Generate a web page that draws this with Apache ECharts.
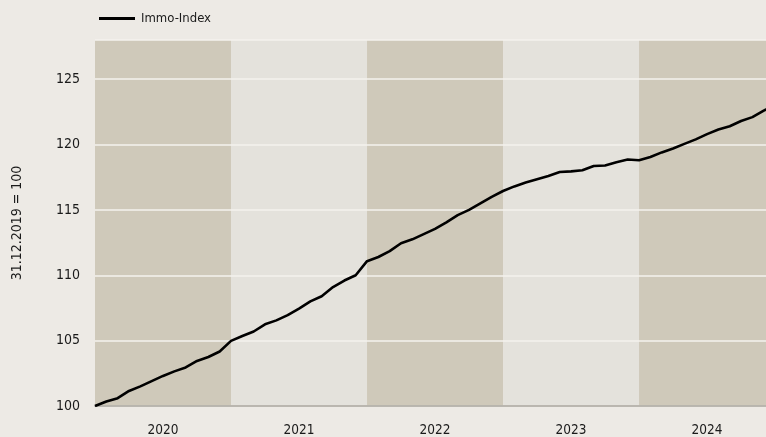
<!DOCTYPE html>
<html><head><meta charset="utf-8">
<script src="https://cdn.jsdelivr.net/npm/echarts@6/dist/echarts.min.js"></script>
<style>html,body{margin:0;padding:0;background:#EDEAE5;}#c{width:766px;height:437px;}</style>
</head><body><div id="c"></div>
<script>
// Month index 0 = 31.12.2019, then end of each month
const months = [0,1,2,3,4,5,6,7,8,9,10,11,12,13,14,15,16,17,18,19,20,21,22,23,24,25,26,27,28,29,30,31,32,33,34,35,36,37,38,39,40,41,42,43,44,45,46,47,48,49,50,51,52,53,54,55,56,57,58,59,60];
const immoIndex = [100,100.35,100.6,101.15,101.5,101.9,102.3,102.65,102.95,103.45,103.75,104.17,104.98,
  105.35,105.7,106.25,106.55,106.95,107.45,108.0,108.4,109.1,109.6,110.0,111.08,
  111.4,111.85,112.45,112.75,113.15,113.55,114.05,114.6,115.0,115.5,116.0,116.45,
  116.8,117.1,117.35,117.6,117.9,117.95,118.03,118.36,118.4,118.65,118.86,118.8,
  119.05,119.4,119.7,120.05,120.4,120.8,121.15,121.4,121.8,122.1,122.6,123.0];
const years = ['2020','2021','2022','2023','2024'];
const yTicks = [100,105,110,115,120,125];
const seriesName = 'Immo-Index';
const yTitle = '31.12.2019 = 100';

const X_MAX = 59.2; // visible window ends inside 2024
const FONT = "'Liberation Sans Narrow','DejaVu Sans Condensed',sans-serif";
const DARK = '#CFC9BA', LIGHT = '#E4E2DC';
const bandAreas = years.map((y, i) => [
  {xAxis: i*12, itemStyle: {color: i % 2 === 0 ? DARK : LIGHT}},
  {xAxis: Math.min((i+1)*12, X_MAX)}
]);

const chart = echarts.init(document.getElementById('c'), null, {renderer: 'canvas'});
chart.setOption({
  backgroundColor: '#EDEAE5',
  animation: false,
  textStyle: {fontFamily: FONT},
  legend: {
    left: 94, top: 7,
    icon: 'rect', itemWidth: 36, itemHeight: 3,
    data: [seriesName],
    textStyle: {fontFamily: FONT, fontSize: 13, color: '#1a1a1a', padding: [0,0,0,1]}
  },
  grid: {left: 95, right: 0, top: 40, bottom: 28, containLabel: false},
  xAxis: {
    type: 'value', min: 0, max: X_MAX, z: 3,
    axisLine: {show: true, lineStyle: {color: '#A8A49C', width: 1.5}},
    axisTick: {show: false},
    splitLine: {show: false},
    axisLabel: {
      customValues: years.map((y, i) => i*12 + 6),
      formatter: v => years[Math.round((v - 6)/12)],
      fontFamily: FONT, fontSize: 13.5, color: '#1a1a1a', margin: 17
    }
  },
  yAxis: {
    type: 'value', min: 100, max: 128, interval: 5, z: 3,
    name: yTitle, nameLocation: 'middle', nameGap: 71, nameRotate: 90,
    nameTextStyle: {fontFamily: FONT, fontSize: 14, color: '#1a1a1a'},
    axisLine: {show: false}, axisTick: {show: false},
    axisLabel: {
      customValues: yTicks,
      fontFamily: FONT, fontSize: 14, color: '#1a1a1a', margin: 15
    },
    splitLine: {show: true, lineStyle: {color: '#F4F2EE', width: 1.5}}
  },
  series: [
    {
      type: 'line', name: 'bands', z: 1, data: [], silent: true,
      markArea: {silent: true, z: 1, data: bandAreas}
    },
    {
      type: 'line', name: seriesName, z: 5,
      data: months.map((m, i) => [m, immoIndex[i]]),
      showSymbol: false, symbol: 'none',
      lineStyle: {color: '#000', width: 2.6},
      itemStyle: {color: '#000'}
    }
  ]
});
</script></body></html>
